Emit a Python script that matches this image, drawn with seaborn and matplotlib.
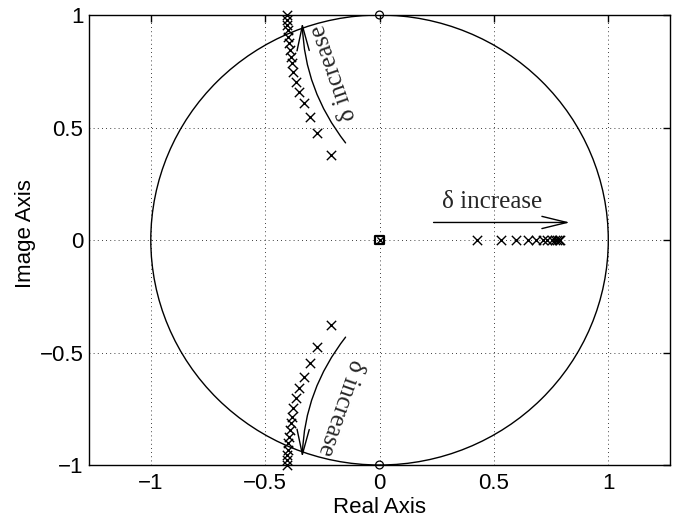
import numpy as np
import pandas as pd
import matplotlib
matplotlib.use("Agg")
import matplotlib.pyplot as plt
import seaborn as sns
from matplotlib.patches import Circle, FancyArrowPatch

# upper branch of poles (lower branch is the conjugate)
branch_re = [-0.214, -0.272, -0.304, -0.330, -0.352, -0.367, -0.377, -0.382,
             -0.389, -0.393, -0.396, -0.399, -0.402, -0.403, -0.403, -0.403]
branch_im = [0.378, 0.474, 0.548, 0.607, 0.659, 0.704, 0.748, 0.785,
             0.815, 0.844, 0.874, 0.904, 0.933, 0.956, 0.978, 1.000]
# poles on the real axis
real_poles = [0.424, 0.533, 0.596, 0.647, 0.684, 0.713, 0.734, 0.752,
              0.765, 0.775, 0.783, 0.790]
zeros_re = [0.0, 0.0]
zeros_im = [1.0, -1.0]

xticks = [-1, -0.5, 0, 0.5, 1]
yticks = [-1, -0.5, 0, 0.5, 1]

poles = pd.DataFrame({
    "re": branch_re + branch_re + real_poles,
    "im": branch_im + [-v for v in branch_im] + [0.0] * len(real_poles),
})
zeros = pd.DataFrame({"re": zeros_re, "im": zeros_im})

sns.set_theme(style="white")
plt.rcParams['font.family'] = ['Liberation Sans', 'DejaVu Sans']

fig = plt.figure(figsize=(6.76, 5.18), dpi=100)
ax = fig.add_axes([0.1317, 0.1023, 0.8595, 0.8687])

ax.add_patch(Circle((0, 0), 1, fill=False, color="black", lw=1.0))

sns.scatterplot(data=poles, x="re", y="im", marker="x", s=45, color="black",
                linewidth=1.0, ax=ax, zorder=3, clip_on=False)
sns.scatterplot(data=zeros, x="re", y="im", marker="o", s=32,
                facecolor="none", edgecolor="black", linewidth=0.9, ax=ax,
                zorder=4, clip_on=False)
# pole/zero pile-up at the origin
sns.scatterplot(x=[0.0], y=[0.0], marker="s", s=40, facecolor="none",
                edgecolor="black", linewidth=1.6, ax=ax, zorder=3)
sns.scatterplot(x=[0.0], y=[0.0], marker="x", s=20, color="black",
                linewidth=1.0, ax=ax, zorder=3)

arrow_kw = dict(arrowstyle="->,head_length=0.9,head_width=0.22",
                mutation_scale=20, color="black", lw=1.0)
ax.add_patch(FancyArrowPatch((-0.141, 0.422), (-0.338, 0.978),
                             connectionstyle="arc3,rad=-0.17", **arrow_kw))
ax.add_patch(FancyArrowPatch((-0.141, -0.422), (-0.338, -0.978),
                             connectionstyle="arc3,rad=0.17", **arrow_kw))
ax.add_patch(FancyArrowPatch((0.224, 0.078), (0.844, 0.078), **arrow_kw))

txt_kw = dict(family="Liberation Serif", fontsize=18, ha="center", va="center",
              rotation_mode="anchor")
ax.text(0.494, 0.17, "δ increase", **txt_kw)
ax.text(-0.198, 0.745, "δ increase", rotation=109, **txt_kw)
ax.text(-0.170, -0.745, "δ increase", rotation=-109, **txt_kw)

ax.set_xlim(-1.27, 1.27)
ax.set_ylim(-1, 1)
ax.set_xticks(xticks)
ax.set_yticks(yticks)
ax.set_xticklabels(["\u22121", "\u22120.5", "0", "0.5", "1"])
ax.set_yticklabels(["\u22121", "\u22120.5", "0", "0.5", "1"])
ax.grid(True, color="black", lw=0.6, linestyle=(0, (1, 4)))
ax.tick_params(direction="in", length=5, width=1, top=True, right=True,
               labelsize=16, colors="black")
ax.tick_params(axis="x", pad=6)
ax.tick_params(axis="y", pad=4)
for sp in ax.spines.values():
    sp.set_color("black")
    sp.set_linewidth(1.0)

ax.set_xlabel("Real Axis", fontsize=16, labelpad=2, color="black")
ax.set_ylabel("Image Axis", fontsize=16, labelpad=1, color="black")
ax.yaxis.set_label_coords(-0.092, 0.515)

fig.savefig("out.png", dpi=100)
